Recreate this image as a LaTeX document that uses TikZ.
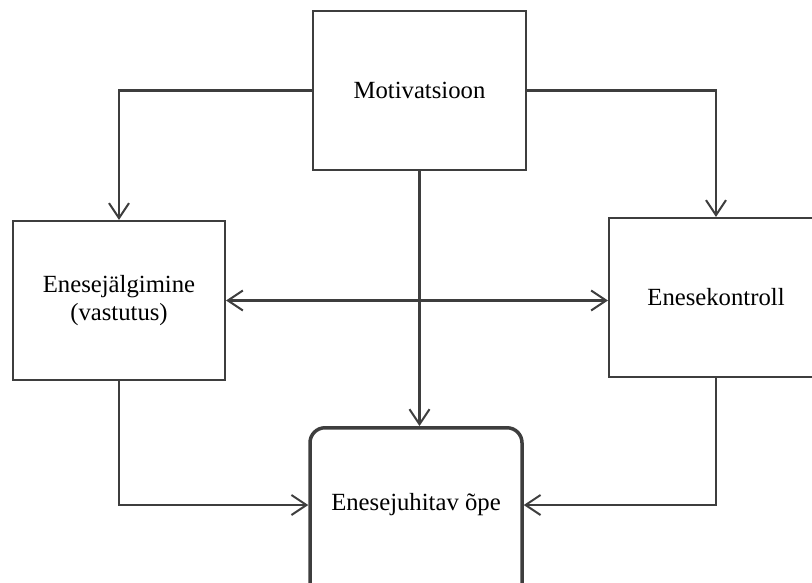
\documentclass[tikz,border=0pt]{standalone}
\usepackage{fontspec}
\setmainfont{Liberation Serif}
\usetikzlibrary{arrows.meta}
\definecolor{edge}{HTML}{3E3E3E}
\begin{document}
\begin{tikzpicture}[x=1pt,y=-1pt,
  box/.style={draw=edge, line width=2.2pt, fill=white, align=center,
    inner sep=0pt, font=\fontsize{24.7}{27.5}\selectfont},
  goalbox/.style={box, line width=3.5pt, rounded corners=15pt},
  label text/.style={inner sep=0pt, align=center, font=\fontsize{24.7}{27.5}\selectfont},
  barb/.tip={Straight Barb[length=15pt,width=20pt,line width=2pt]},
  link/.style={draw=edge, line width=2.2pt, -barb},
  twoway/.style={link, barb-barb}]
  \useasboundingbox (0,0) rectangle (812,582);

  % boxes
  \node[box, minimum width=213pt, minimum height=159pt] (mot) at (419.5,90.5) {Motivatsioon};
  \node[box, minimum width=212pt, minimum height=159pt] (mon) at (119,300.5) {Enesejälgimine\\(vastutus)};
  \node[box, minimum width=214pt, minimum height=159pt] (ctl) at (716,297.5) {Enesekontroll};
  % the goal box runs past the lower edge of the picture
  \node[goalbox, minimum width=212pt, minimum height=200pt, anchor=north] (sdl) at (416,426) {};
  \node[label text] (sdltext) at (416,505) {Enesejuhitav õpe};

  % connectors
  \draw[link] (mot.west) -| (mon.north);
  \draw[link] (mot.east) -| (ctl.north);
  \draw[link] (mot.south) -- (mot.south |- sdl.north);
  \draw[twoway] (mon.east) -- (mon.east -| ctl.west);
  \draw[link] (mon.south) |- (sdl.west |- sdltext);
  \draw[link] (ctl.south) |- (sdl.east |- sdltext);
\end{tikzpicture}
\end{document}
